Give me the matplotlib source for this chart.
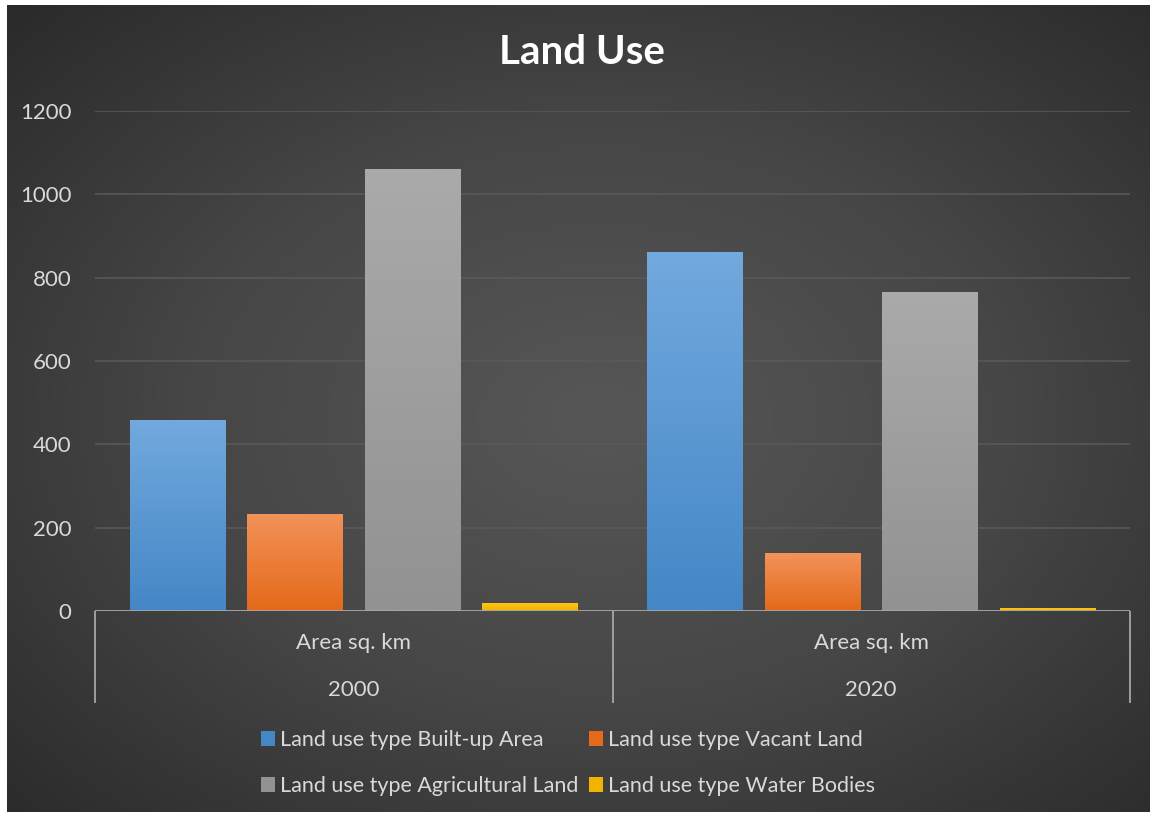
import numpy as np
import matplotlib.pyplot as plt
from matplotlib.colors import LinearSegmentedColormap
from matplotlib.transforms import blended_transform_factory
from matplotlib.patches import Patch

plt.rcParams['font.family'] = ['Lato', 'DejaVu Sans']

# data
years = ['2000', '2020']
measure = 'Area sq. km'
series = ['Land use type Built-up Area', 'Land use type Vacant Land',
          'Land use type Agricultural Land', 'Land use type Water Bodies']
values = {
    'Land use type Built-up Area': [458, 862],
    'Land use type Vacant Land': [233, 139],
    'Land use type Agricultural Land': [1061, 766],
    'Land use type Water Bodies': [19, 7],
}
# gradient colours (top, bottom)
grad = [('#72a9de', '#4487c6'), ('#f39259', '#e4691a'),
        ('#aaaaaa', '#929292'), ('#ffc614', '#f2b200')]

W, H = 1152, 815
fig = plt.figure(figsize=(W / 100, H / 100), dpi=100)
fig.patch.set_facecolor('white')

# background with radial gradient
bg = fig.add_axes([7 / W, 1 - 812 / H, (1150 - 7) / W, (812 - 5) / H])
bg.set_axis_off()
yy, xx = np.mgrid[0:400, 0:560]
cx, cy = 290, 205
r = np.sqrt(((xx - cx) / 560) ** 2 + ((yy - cy) / 400) ** 2)
r = r / r.max()
bgcmap = LinearSegmentedColormap.from_list('bg', ['#575757', '#464646', '#2a2a2a'])
bg.imshow(r, cmap=bgcmap, aspect='auto', extent=[0, 1, 0, 1], zorder=0)
bg.set_xlim(0, 1)
bg.set_ylim(0, 1)

ax = fig.add_axes([95 / W, 1 - 611 / H, (1130 - 95) / W, 500 / H])
ax.set_facecolor('none')
for s in ax.spines.values():
    s.set_visible(False)

n = len(series)
width = 0.184
step = 0.227
x = np.arange(len(years)) + 0.5
for i, name in enumerate(series):
    off = (i - (n - 1) / 2) * step
    bars = ax.bar(x + off, values[name], width=width, color=grad[i][1], zorder=3)
    cm = LinearSegmentedColormap.from_list('g%d' % i, [grad[i][1], grad[i][0]])
    for b in bars:
        b.set_facecolor('none')
        x0, y0 = b.get_x(), b.get_y()
        w, h = b.get_width(), b.get_height()
        img = ax.imshow(np.linspace(0, 1, 100).reshape(-1, 1), cmap=cm,
                        extent=[x0, x0 + w, y0, y0 + h], origin='lower',
                        aspect='auto', zorder=3)
        img.set_clip_path(b)

ax.set_xlim(0, len(years))
ax.set_ylim(0, 1200)
ax.set_yticks(np.arange(0, 1201, 200))
ax.yaxis.grid(True, color='#5a5a5a', linewidth=1.1, zorder=1)
ax.tick_params(axis='y', length=0, pad=17, labelsize=16, labelcolor='#d9d9d9')
ax.set_xticks([])
ax.axhline(0, color='#a6a6a6', linewidth=1.3, zorder=4)

tr = blended_transform_factory(ax.transData, ax.transAxes)
ax.vlines(np.arange(len(years) + 1), -0.184, 0, transform=tr, colors='#a6a6a6',
          linewidth=1.3, clip_on=False)
for xi, yr in zip(x, years):
    ax.text(xi, -0.064, measure, transform=tr, ha='center', va='center',
            fontsize=16, color='#d9d9d9')
    ax.text(xi, -0.158, yr, transform=tr, ha='center', va='center',
            fontsize=16, color='#d9d9d9')

fig.text(582 / W, 1 - 53 / H, 'Land Use', ha='center', va='center',
         fontsize=29, fontweight='bold', color='white')

# legend is filled row by row
order = [0, 2, 1, 3]
handles = [Patch(facecolor=grad[i][1]) for i in order]
labels = [series[i] for i in order]
leg = fig.legend(handles, labels, ncol=2, loc='center',
                 bbox_to_anchor=(568 / W, 1 - 763 / H), frameon=False,
                 fontsize=15.5, handlelength=0.65, handleheight=0.65,
                 handletextpad=0.25, columnspacing=0.5, labelspacing=1.2)
for t in leg.get_texts():
    t.set_color('#d9d9d9')

fig.savefig('out.png', dpi=100, facecolor='white')
